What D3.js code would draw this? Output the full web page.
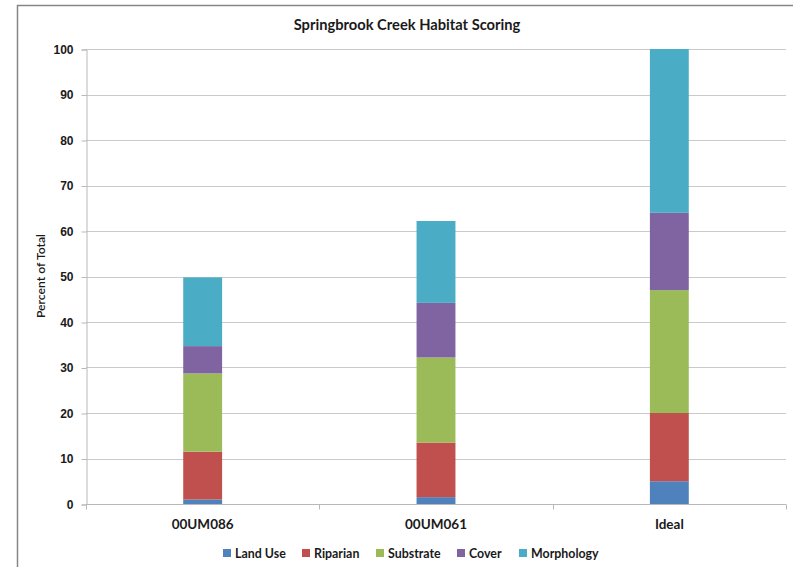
<!DOCTYPE html>
<html>
<head>
<meta charset="utf-8">
<script src="https://cdn.jsdelivr.net/npm/d3@7"></script>
<style>
  html, body { margin: 0; padding: 0; background: #fff; }
  svg { display: block; font-family: Lato, "Open Sans", sans-serif; }
</style>
</head>
<body>
<svg id="chart" width="793" height="567"></svg>
<script>
// Sites and the habitat components stacked in each bar
const sites = ["00UM086", "00UM061", "Ideal"];
const components = ["Land Use", "Riparian", "Substrate", "Cover", "Morphology"];
const landUse    = [1.0, 1.5, 5];
const riparian   = [10.5, 12.0, 15];
const substrate  = [17.2, 18.7, 27];
const cover      = [6.0, 12.0, 17];
const morphology = [15.1, 18.0, 36];
const yTicks = [0, 10, 20, 30, 40, 50, 60, 70, 80, 90, 100];
const colors = ["#4F81BD", "#C0504D", "#9BBB59", "#8064A2", "#4BACC6"];

const seriesValues = [landUse, riparian, substrate, cover, morphology];
const rows = sites.map((s, i) => {
  const r = { site: s };
  components.forEach((c, k) => { r[c] = seriesValues[k][i]; });
  return r;
});

const svg = d3.select("#chart");
const plot = { left: 86, right: 786, top: 49, bottom: 504 };

// Chart frame (top and left edges)
svg.append("path")
  .attr("d", "M17.5,600 L17.5,5.5 L800,5.5")
  .attr("fill", "none").attr("stroke", "#868686").attr("stroke-width", 1.5);

const x = d3.scaleBand().domain(sites).range([plot.left, plot.right]).paddingInner(0).paddingOuter(0);
const y = d3.scaleLinear().domain([0, 100]).range([plot.bottom, plot.top]);
const barW = x.bandwidth() / 6;

// Horizontal gridlines
svg.append("g").selectAll("line").data(yTicks.filter(t => t > 0)).join("line")
  .attr("x1", plot.left).attr("x2", plot.right)
  .attr("y1", d => Math.round(y(d)) + 0.5).attr("y2", d => Math.round(y(d)) + 0.5)
  .attr("stroke", "#cacaca").attr("stroke-width", 1.2);

// Y axis
const yAxis = svg.append("g")
  .attr("transform", `translate(${plot.left + 0.5},0.5)`)
  .call(d3.axisLeft(y).tickValues(yTicks).tickSize(5).tickPadding(8));
yAxis.select(".domain").attr("stroke", "#b8b8b8");
yAxis.selectAll(".tick line").attr("stroke", "#b8b8b8");
yAxis.selectAll("text").attr("font-size", 12).attr("font-weight", "bold").attr("fill", "#1a1a1a");

// X axis with ticks on category boundaries
const xAxisG = svg.append("g").attr("transform", `translate(0,${plot.bottom + 0.5})`);
xAxisG.append("line").attr("x1", plot.left).attr("x2", plot.right)
  .attr("stroke", "#b8b8b8");
const boundaries = sites.map(s => x(s)).concat([x(sites[sites.length - 1]) + x.bandwidth()]);
xAxisG.selectAll("line.b").data(boundaries).join("line").attr("class", "b")
  .attr("x1", d => Math.round(d) + 0.5).attr("x2", d => Math.round(d) + 0.5)
  .attr("y1", 0).attr("y2", 5).attr("stroke", "#b8b8b8");
xAxisG.selectAll("text").data(sites).join("text")
  .attr("x", d => x(d) + x.bandwidth() / 2).attr("y", 24)
  .attr("text-anchor", "middle").attr("font-size", 13.5).attr("font-weight", "bold")
  .attr("fill", "#1a1a1a").text(d => d);

// Stacked bars
const stacked = d3.stack().keys(components)(rows);
svg.append("g").selectAll("g").data(stacked).join("g")
  .attr("fill", (d, i) => colors[i])
  .selectAll("rect").data(d => d).join("rect")
  .attr("x", d => x(d.data.site) + x.bandwidth() / 2 - barW / 2)
  .attr("width", barW)
  .attr("y", d => y(d[1]))
  .attr("height", d => y(d[0]) - y(d[1]));

// Title
svg.append("text").attr("x", 407).attr("y", 30)
  .attr("text-anchor", "middle").attr("font-size", 14.7).attr("font-weight", "bold")
  .attr("fill", "#1a1a1a").text("Springbrook Creek Habitat Scoring");

// Y axis title
svg.append("text").attr("transform", "translate(45,276) rotate(-90)")
  .attr("text-anchor", "middle").attr("font-size", 12.2).attr("font-weight", "600")
  .attr("fill", "#1a1a1a").text("Percent of Total");

// Legend
const legendX = [223, 302, 376, 457, 519];
const legend = svg.append("g").selectAll("g").data(components).join("g")
  .attr("transform", (d, i) => `translate(${legendX[i]},553)`);
legend.append("rect").attr("x", 0).attr("y", -4).attr("width", 8).attr("height", 8)
  .attr("fill", (d, i) => colors[i]);
legend.append("text").attr("x", 12).attr("y", 4.5)
  .attr("font-size", 12.4).attr("font-weight", "bold").attr("fill", "#1a1a1a").text(d => d);
</script>
</body>
</html>
